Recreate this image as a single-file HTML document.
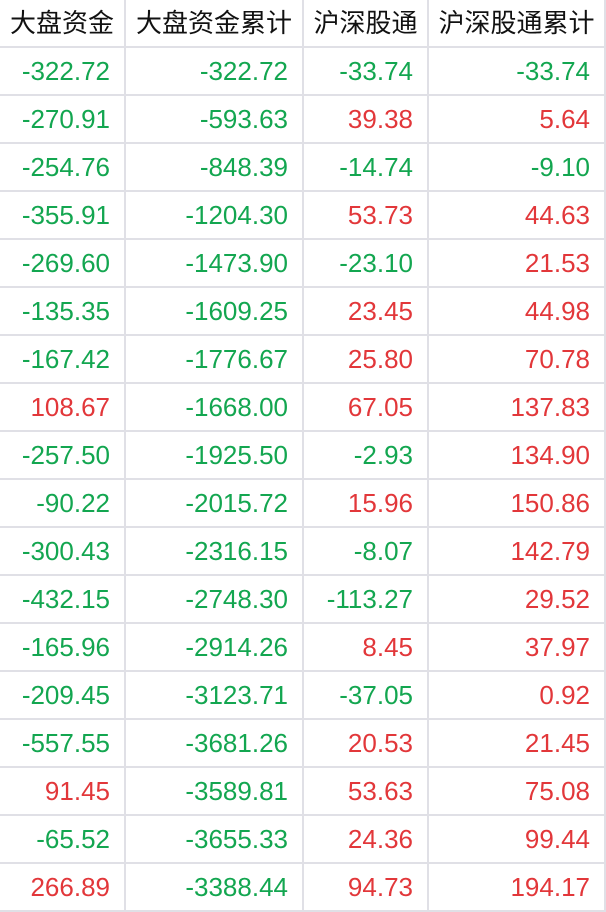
<!DOCTYPE html>
<html><head><meta charset="utf-8"><style>
html,body{margin:0;padding:0;background:#fff;}
#t{position:relative;width:606px;height:912px;overflow:hidden;font-family:"Liberation Sans","Noto Sans CJK SC",sans-serif;font-size:26px;}
.h{position:absolute;left:0;width:606px;height:2px;background:#e0e0e6;}
.v{position:absolute;top:0;width:2px;height:912px;background:#e0e0e6;}
.c{position:absolute;height:46px;line-height:46px;white-space:nowrap;}
.hd{color:#111;text-align:center;}
.n{text-align:right;}
.g{color:#13a650;}
.r{color:#e2373a;}
</style></head><body>
<div id="t"></div>
<script>
const headers=["大盘资金","大盘资金累计","沪深股通","沪深股通累计"];
const col1=["-322.72","-270.91","-254.76","-355.91","-269.60","-135.35","-167.42","108.67","-257.50","-90.22","-300.43","-432.15","-165.96","-209.45","-557.55","91.45","-65.52","266.89"];
const col2=["-322.72","-593.63","-848.39","-1204.30","-1473.90","-1609.25","-1776.67","-1668.00","-1925.50","-2015.72","-2316.15","-2748.30","-2914.26","-3123.71","-3681.26","-3589.81","-3655.33","-3388.44"];
const col3=["-33.74","39.38","-14.74","53.73","-23.10","23.45","25.80","67.05","-2.93","15.96","-8.07","-113.27","8.45","-37.05","20.53","53.63","24.36","94.73"];
const col4=["-33.74","5.64","-9.10","44.63","21.53","44.98","70.78","137.83","134.90","150.86","142.79","29.52","37.97","0.92","21.45","75.08","99.44","194.17"];
const cols=[col1,col2,col3,col4];
const edges=[0,124,302,427,604];
const t=document.getElementById('t');
for(let k=0;k<=18;k++){const d=document.createElement('div');d.className='h';d.style.top=(46+48*k)+'px';


t.appendChild(d);}
for(let i=1;i<edges.length;i++){const d=document.createElement('div');d.className='v';d.style.left=edges[i]+'px';


t.appendChild(d);}
headers.forEach((h,i)=>{const d=document.createElement('div');d.className='c hd';d.textContent=h;
d.style.left=(i==0?0:edges[i]+2)+'px';d.style.width=(edges[i+1]-(i==0?0:edges[i]+2))+'px';d.style.top='0px';


t.appendChild(d);});
cols.forEach((c,i)=>{c.forEach((v,r)=>{const d=document.createElement('div');
d.className='c n '+(v.trim().startsWith('-')?'g':'r');d.textContent=v;
d.style.left=edges[i]+'px';d.style.width=(edges[i+1]-edges[i]-14)+'px';d.style.top=(48+48*r)+'px';


t.appendChild(d);});});
</script>
</body></html>
